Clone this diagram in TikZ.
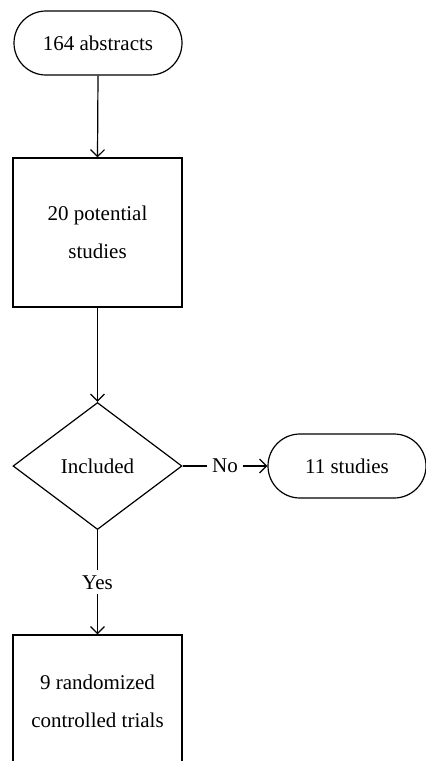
\documentclass[tikz,border=0pt]{standalone}
\usepackage{fontspec}
\setmainfont{Liberation Serif}
\usetikzlibrary{shapes.misc,shapes.geometric,arrows.meta}
\begin{document}
\begin{tikzpicture}[x=1pt,y=-1pt,
  every node/.style={font=\fontsize{21}{38}\selectfont},
  term/.style={draw, line width=1.2pt, rounded rectangle, minimum height=64pt, inner sep=0pt},
  boxnode/.style={draw, line width=1.2pt, rectangle, align=center, inner sep=0pt},
  decision/.style={draw, line width=1.2pt, diamond, minimum width=169pt, minimum height=127pt, inner sep=0pt, aspect=1.33},
  conn/.style={line width=1.2pt, -{Straight Barb[length=7pt,width=14pt,line width=1.2pt]}},
  lbl/.style={fill=white, inner sep=5pt}
]
\useasboundingbox (0,0) rectangle (426,761);
\clip (0,0) rectangle (426,761);
\node[term, minimum width=168pt] (t1) at (98,43) {164 abstracts};
\node[boxnode, minimum width=169pt, minimum height=149pt] (b2) at (97.5,232.5) {20 potential\\studies};
\node[decision] (d) at (97.5,466) {Included};
\node[term, minimum width=158pt] (t2) at (347,466) {11 studies};
\node[boxnode, minimum width=169pt, minimum height=132pt] (b3) at (97.5,701) {9 randomized\\controlled trials};
\draw[conn] (t1.south) -- (b2.north);
\draw[conn] (b2.south) -- (d.north);
\draw[conn] (d.east) -- node[lbl] {No} (t2.west);
\draw[conn] (d.south) -- node[lbl] {Yes} (b3.north);
\end{tikzpicture}
\end{document}
